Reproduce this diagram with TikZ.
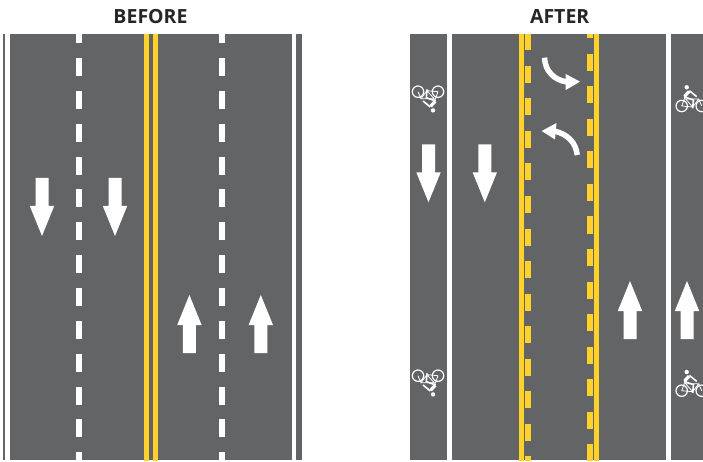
\documentclass[tikz,border=0pt]{standalone}
\usepackage{fontspec}
\setmainfont{Open Sans}
\definecolor{roadgray}{HTML}{636466}
\definecolor{lineyellow}{HTML}{FFD22B}
\tikzset{
  asphalt/.style={fill=roadgray},
  solidyellow/.style={fill=lineyellow},
  whitedash/.style={white,line width=5.5pt,dash pattern=on 18pt off 14.85pt,dash phase=8.85pt},
  yellowdash/.style={lineyellow,line width=5.5pt,dash pattern=on 17pt off 15.5pt},
  title/.style={font=\fontsize{19.5}{22}\selectfont\bfseries,text=black!85,anchor=base},
  lanearrow/.pic={\fill[white] (-6.5,-29) -- (6.5,-29) -- (6.5,-1) -- (12.2,-1) -- (0,29) -- (-12.2,-1) -- (-6.5,-1) -- cycle;},
  bike/.pic={
    \draw[white,line width=1.2pt] (-10,0) circle (5.7) (10,0) circle (5.7);
    \draw[white,line width=0.8pt] (-10,0) -- (-7,-8) -- (1,1) -- (7,-7) -- (-6,-7) (-10,0) -- (1,1) (7,-7) -- (10,0);
    \fill[white] (-5,-18.7) circle (2.2);
    \draw[white,line width=3.2pt] (-2.6,-14.6) -- (-7.2,-9.6);
    \draw[white,line width=1.6pt] (-2.3,-15.3) -- (5,-9.3) (-7.7,-9.3) -- (1.7,-6) -- (1,2.3);
  }
}
\begin{document}
\begin{tikzpicture}[x=1pt,y=-1pt]
  \useasboundingbox (0,0) rectangle (703,462);
  \clip (0,0) rectangle (703,462);
  \fill[white] (0,0) rectangle (703,462);
  \node[title] (before) at (150.5,24) {BEFORE};
  \node[title] (after) at (559.7,24) {AFTER};
  % before
  \fill[asphalt] (3,34) rectangle (5,460);
  \fill[asphalt] (10,34) rectangle (291.5,460);
  \fill[asphalt] (296,34) rectangle (302,460);
  \fill[solidyellow] (143.5,34) rectangle (148.5,461);
  \fill[solidyellow] (152.5,34) rectangle (157.5,461);
  \foreach \x in {79.2,221.8}
    \draw[whitedash] (\x,34) -- (\x,460);
  \foreach \x in {42,115}
    \pic at (\x,207) {lanearrow};
  \foreach \x in {189.4,260.8}
    \pic[rotate=180] at (\x,324) {lanearrow};
  % after
  \fill[asphalt] (410,34) rectangle (446.5,460);
  \fill[asphalt] (451.5,34) rectangle (666,460);
  \fill[asphalt] (671,34) rectangle (703,460);
  \fill[solidyellow] (518.5,34) rectangle (523.5,461);
  \fill[solidyellow] (594.2,34) rectangle (599.2,461);
  \draw[yellowdash,dash phase=0.5pt] (527.8,34) -- (527.8,461);
  \draw[yellowdash,dash phase=12.5pt] (589.9,34) -- (589.9,461);
  \foreach \x in {428.5,484.8}
    \pic at (\x,173.3) {lanearrow};
  \foreach \x in {630,687}
    \pic[rotate=180] at (\x,310) {lanearrow};
  % turn arrows
  \draw[white,line width=5.5pt] (544.5,57.7) .. controls (545,71) and (554,80) .. (567,82);
  \fill[white] (580,81.7) -- (565.7,74) -- (565.7,90) -- cycle;
  \draw[white,line width=5.5pt] (577.2,155) .. controls (576,143) and (568,134) .. (554,131);
  \fill[white] (541.7,131) -- (556.5,123) -- (555,139.5) -- cycle;
  % bikes
  \foreach \y in {91.7,375.7}
    \pic[rotate=180] at (428,\y) {bike};
  \foreach \y in {106,390.7}
    \pic at (691.7,\y) {bike};
\end{tikzpicture}
\end{document}
